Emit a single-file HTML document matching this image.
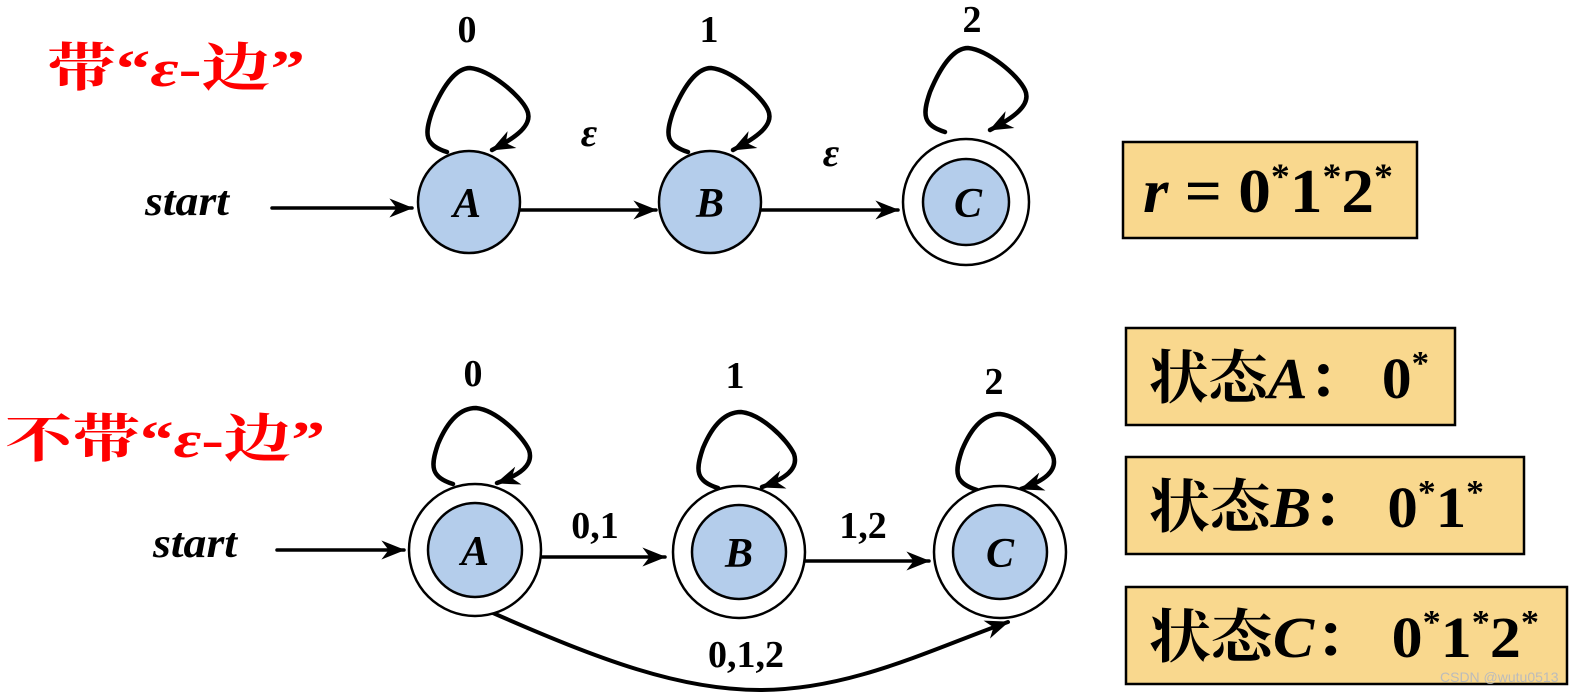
<!DOCTYPE html>
<html><head><meta charset="utf-8"><style>
html,body{margin:0;padding:0;background:#fff;}
svg{display:block;}
</style></head><body>
<svg width="1576" height="697" viewBox="0 0 1576 697" xmlns="http://www.w3.org/2000/svg" font-family="Liberation Serif, Noto Serif CJK SC, serif" font-weight="bold">
<defs>
<marker id="a" viewBox="0 0 20 16" refX="19" refY="8" markerWidth="24" markerHeight="19" orient="auto" markerUnits="userSpaceOnUse">
<path d="M0,0 L20,8 L0,16 L6,8 Z" fill="#000"/>
</marker>
</defs>
<g fill="none" stroke="#000" stroke-width="4.5" stroke-linecap="round" stroke-linejoin="round">
<line x1="272" y1="208" x2="412" y2="208" stroke-width="3.5" marker-end="url(#a)"/>
<line x1="520" y1="210" x2="656" y2="210" stroke-width="3.5" marker-end="url(#a)"/>
<line x1="761" y1="210" x2="898" y2="210" stroke-width="3.5" marker-end="url(#a)"/>
<path d="M447,152 C425,145 424,135 432,112 C442,88 455,68 470,68 C490,70 520,95 527,110 C534,125 515,138 492,150" marker-end="url(#a)"/>
<path d="M688,152 C666,145 665,135 673,112 C683,88 696,68 711,68 C731,70 761,95 768,110 C775,125 756,138 733,150" marker-end="url(#a)"/>
<path d="M945,132 C923,125 922,115 930,92 C940,68 953,48 968,48 C988,50 1018,75 1025,90 C1032,105 1013,118 990,130" marker-end="url(#a)"/>
<line x1="277" y1="550" x2="404" y2="550" stroke-width="3.5" marker-end="url(#a)"/>
<line x1="541" y1="557" x2="665" y2="557" stroke-width="3.5" marker-end="url(#a)"/>
<line x1="805" y1="561" x2="929" y2="561" stroke-width="3.5" marker-end="url(#a)"/>
<path d="M453,484 C431,477 430,467 438,444 C448,420 461,408 476,408 C496,410 522,435 529,450 C534,465 520,475 497,483" marker-end="url(#a)"/>
<path d="M718,488 C696,481 695,471 703,448 C713,424 726,412 741,412 C761,414 787,439 794,454 C799,469 785,479 762,487" marker-end="url(#a)"/>
<path d="M977,490 C955,483 954,473 962,450 C972,426 985,414 1000,414 C1020,416 1046,441 1053,456 C1058,471 1044,481 1021,489" marker-end="url(#a)"/>
<path d="M493,613 C600,660 680,690 760,690 C850,690 930,650 1008,622" stroke-width="4" marker-end="url(#a)"/>
</g>
<g stroke="#000" stroke-width="2.5">
<circle cx="469" cy="202" r="51" fill="#B4CDEB"/>
<circle cx="710" cy="202" r="51" fill="#B4CDEB"/>
<circle cx="966" cy="202" r="63" fill="#fff"/>
<circle cx="966" cy="202" r="43" fill="#B4CDEB"/>
<circle cx="475" cy="550" r="66" fill="#fff"/>
<circle cx="475" cy="550" r="47" fill="#B4CDEB"/>
<circle cx="739" cy="552" r="66" fill="#fff"/>
<circle cx="739" cy="552" r="47" fill="#B4CDEB"/>
<circle cx="1000" cy="552" r="66" fill="#fff"/>
<circle cx="1000" cy="552" r="47" fill="#B4CDEB"/>
</g>
<g text-anchor="middle">
<g font-style="italic" font-size="42">
<text x="467" y="217">A</text>
<text x="710" y="217">B</text>
<text x="968" y="217">C</text>
<text x="475" y="565">A</text>
<text x="739" y="567">B</text>
<text x="1000" y="567">C</text>
<text x="589" y="146" font-size="40">ε</text>
<text x="831" y="166" font-size="40">ε</text>
</g>
<g font-size="38">
<text x="467" y="42">0</text>
<text x="709" y="42">1</text>
<text x="972" y="32">2</text>
<text x="473" y="386">0</text>
<text x="735" y="388">1</text>
<text x="994" y="394">2</text>
<text x="595" y="538">0,1</text>
<text x="863" y="538">1,2</text>
<text x="746" y="667">0,1,2</text>
</g>
</g>
<text x="145" y="215" font-size="42" font-style="italic" textLength="84" lengthAdjust="spacingAndGlyphs">start</text>
<text x="153" y="557" font-size="42" font-style="italic" textLength="84" lengthAdjust="spacingAndGlyphs">start</text>
<text x="47" y="86" font-size="52" fill="#f00" textLength="258" lengthAdjust="spacingAndGlyphs">带“<tspan font-style="italic">ε</tspan>-边”</text>
<text x="5" y="457" font-size="52" fill="#f00" textLength="320" lengthAdjust="spacingAndGlyphs">不带“<tspan font-style="italic">ε</tspan>-边”</text>
<g stroke="#000" stroke-width="2.5" fill="#F9D88E">
<rect x="1123" y="142" width="294" height="96"/>
<rect x="1126" y="328" width="329" height="97"/>
<rect x="1126" y="457" width="398" height="97"/>
<rect x="1126" y="587" width="441" height="97"/>
</g>
<text x="1143" y="212" font-size="62" textLength="250" lengthAdjust="spacingAndGlyphs"><tspan font-style="italic">r</tspan> = 0<tspan font-size="36" dy="-24">*</tspan><tspan dy="24">1</tspan><tspan font-size="36" dy="-24">*</tspan><tspan dy="24">2</tspan><tspan font-size="36" dy="-24">*</tspan></text>
<text x="1149" y="398" font-size="58" textLength="280" lengthAdjust="spacingAndGlyphs">状态<tspan font-style="italic">A</tspan>： 0<tspan font-size="34" dy="-24">*</tspan></text>
<text x="1149" y="527" font-size="58" textLength="335" lengthAdjust="spacingAndGlyphs">状态<tspan font-style="italic">B</tspan>： 0<tspan font-size="34" dy="-24">*</tspan><tspan dy="24">1</tspan><tspan font-size="34" dy="-24">*</tspan></text>
<text x="1149" y="657" font-size="58" textLength="390" lengthAdjust="spacingAndGlyphs">状态<tspan font-style="italic">C</tspan>： 0<tspan font-size="34" dy="-24">*</tspan><tspan dy="24">1</tspan><tspan font-size="34" dy="-24">*</tspan><tspan dy="24">2</tspan><tspan font-size="34" dy="-24">*</tspan></text>
<text x="1440" y="682" font-family="Liberation Sans, sans-serif" font-weight="normal" font-size="14" fill="#bbb">CSDN @wutu0513</text>
</svg>
</body></html>
